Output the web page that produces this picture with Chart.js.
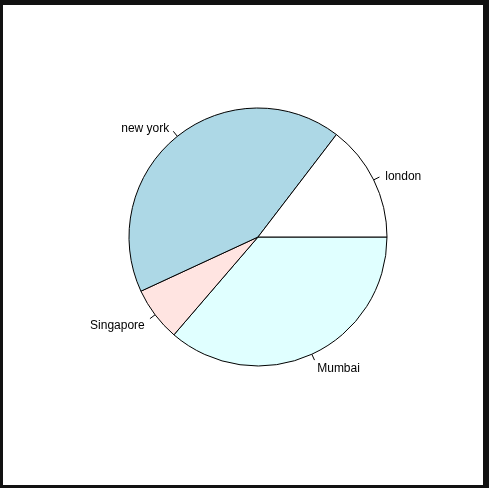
<!DOCTYPE html>
<html>
<head>
<meta charset="utf-8">
<script src="https://cdn.jsdelivr.net/npm/chart.js@4"></script>
<style>
  html, body { margin: 0; padding: 0; background: #111111; width: 489px; height: 488px; overflow: hidden; }
  #wrap { position: absolute; left: 3px; top: 5px; width: 480px; height: 480px; background: #ffffff; }
  canvas { display: block; }
</style>
</head>
<body>
<div id="wrap"><canvas id="c" width="480" height="480"></canvas></div>
<script>
// R pie order (counter-clockwise from 3 o'clock)
const categories = ["london", "new york", "Singapore", "Mumbai"];
const values = [14.6, 42.3, 6.8, 36.3];
const colors = ["#FFFFFF", "#ADD8E6", "#FFE4E1", "#E0FFFF"];

// Chart.js draws clockwise, so reverse the order
const cjLabels = categories.slice().reverse();
const cjValues = values.slice().reverse();
const cjColors = colors.slice().reverse();

const rLabels = {
  id: 'rLabels',
  afterDatasetsDraw(chart) {
    const ctx = chart.ctx;
    const meta = chart.getDatasetMeta(0);
    ctx.save();
    ctx.strokeStyle = '#000';
    ctx.lineWidth = 1;
    ctx.fillStyle = '#000';
    ctx.font = '12px "Liberation Sans", Arial, sans-serif';
    ctx.textBaseline = 'alphabetic';
    meta.data.forEach((arc, i) => {
      const p = arc.getProps(['x', 'y', 'startAngle', 'endAngle', 'outerRadius'], true);
      const mid = (p.startAngle + p.endAngle) / 2;
      const c = Math.cos(mid), s = Math.sin(mid);
      const r = p.outerRadius;
      ctx.beginPath();
      ctx.moveTo(p.x + c * r, p.y + s * r);
      ctx.lineTo(p.x + c * r * 1.05, p.y + s * r * 1.05);
      ctx.stroke();
      ctx.textAlign = c > 0 ? 'left' : 'right';
      ctx.fillText(chart.data.labels[i], p.x + c * r * 1.1, p.y + s * r * 1.1 + 6);
    });
    ctx.restore();
  }
};

new Chart(document.getElementById('c'), {
  type: 'pie',
  data: {
    labels: cjLabels,
    datasets: [{
      data: cjValues,
      backgroundColor: cjColors,
      borderColor: '#000000',
      borderWidth: 1
    }]
  },
  options: {
    responsive: false,
    animation: false,
    rotation: 90,
    radius: 129,
    layout: { padding: { left: 126, right: 96, top: 103, bottom: 119 } },
    plugins: { legend: { display: false }, tooltip: { enabled: false } }
  },
  plugins: [rLabels]
});
</script>
</body>
</html>
